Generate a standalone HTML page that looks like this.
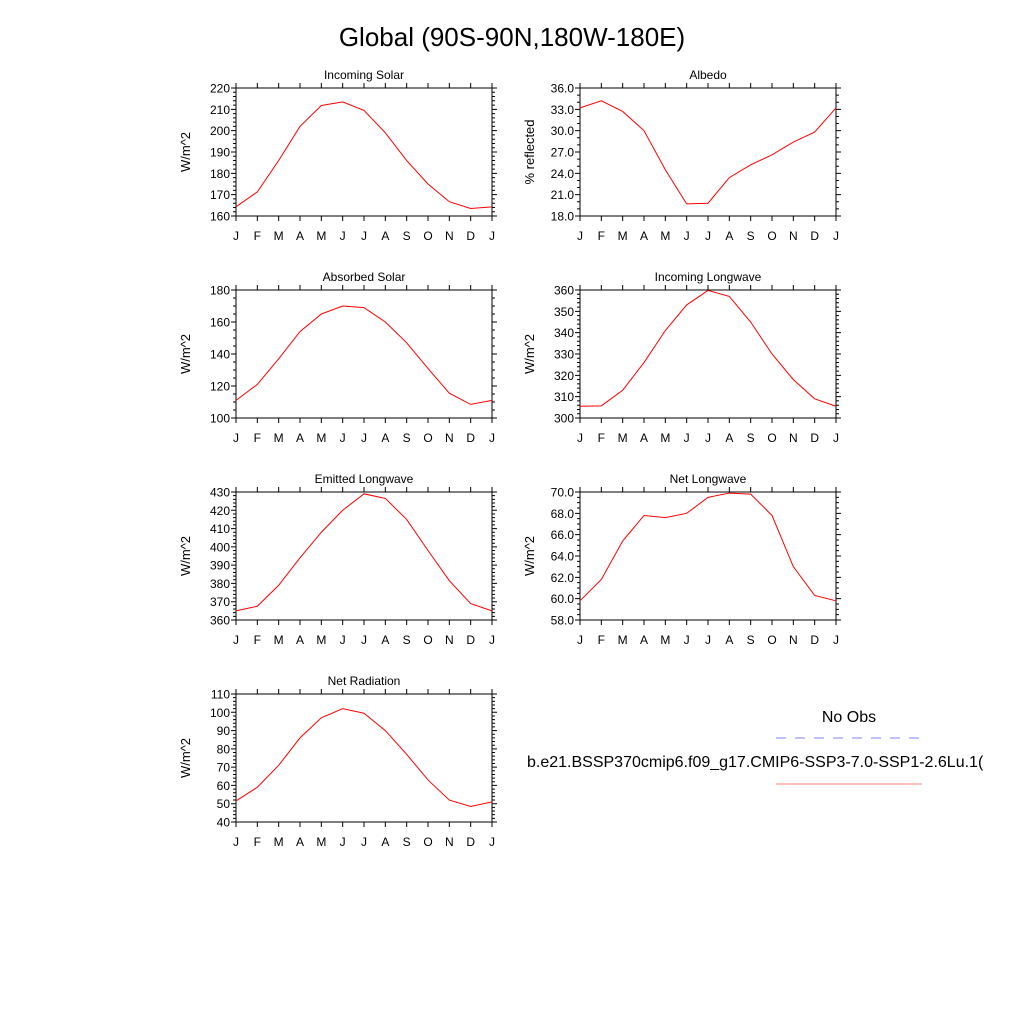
<!DOCTYPE html>
<html><head><meta charset="utf-8"><style>body{margin:0;background:#fff}svg{display:block}text{font-family:"Liberation Sans",sans-serif;fill:#000}</style></head>
<body>
<svg id="fig" width="1024" height="1024" viewBox="0 0 1024 1024">
<text x="512" y="46" font-size="26" text-anchor="middle">Global (90S-90N,180W-180E)</text>
<g>
<text x="849" y="722" font-size="16" text-anchor="middle">No Obs</text>
<line x1="776" y1="738" x2="922" y2="738" stroke="#8080ff" stroke-width="1" stroke-dasharray="10,9"/>
<text x="527" y="767" font-size="16">b.e21.BSSP370cmip6.f09_g17.CMIP6-SSP3-7.0-SSP1-2.6Lu.1(</text>
<line x1="776" y1="784" x2="922" y2="784" stroke="#ff8080" stroke-width="1"/>
</g>
</svg>
<script>
const months = ["J","F","M","A","M","J","J","A","S","O","N","D","J"];
const incomingSolar = [164.3,171.3,186,202,211.8,213.5,209.5,199,186,175,166.7,163.5,164.3];
const albedo = [33.2,34.2,32.7,30,24.5,19.7,19.8,23.4,25.2,26.6,28.4,29.8,33.2];
const absorbedSolar = [111,121,137,154,165,170,169,160,147,131,115.5,108.5,111];
const incomingLongwave = [305.5,305.7,313,326,341,353,359.8,357,345,330,318,309,305.5];
const emittedLongwave = [365,367.5,379,394,408,420,429,426.5,415,398,381.5,369,365];
const netLongwave = [59.8,61.8,65.4,67.8,67.6,68,69.5,69.9,69.8,67.8,63,60.3,59.8];
const netRadiation = [51.5,59,71,86,97,102,99.5,90,77,63,52,48.5,51];
const ticksSolar = [160,170,180,190,200,210,220];
const ticksAlbedo = [18,21,24,27,30,33,36];
const ticksAbs = [100,120,140,160,180];
const ticksILW = [300,310,320,330,340,350,360];
const ticksELW = [360,370,380,390,400,410,420,430];
const ticksNLW = [58,60,62,64,66,68,70];
const ticksNR = [40,50,60,70,80,90,100,110];

const panels = [
 {name:"incoming-solar",title:"Incoming Solar",yl:"W/m^2",x:236,y:88,d:incomingSolar,t:ticksSolar,dec:0,minor:5},
 {name:"albedo",title:"Albedo",yl:"% reflected",x:580,y:88,d:albedo,t:ticksAlbedo,dec:1,minor:3},
 {name:"absorbed-solar",title:"Absorbed Solar",yl:"W/m^2",x:236,y:290,d:absorbedSolar,t:ticksAbs,dec:0,minor:4},
 {name:"incoming-longwave",title:"Incoming Longwave",yl:"W/m^2",x:580,y:290,d:incomingLongwave,t:ticksILW,dec:0,minor:5},
 {name:"emitted-longwave",title:"Emitted Longwave",yl:"W/m^2",x:236,y:492,d:emittedLongwave,t:ticksELW,dec:0,minor:5},
 {name:"net-longwave",title:"Net Longwave",yl:"W/m^2",x:580,y:492,d:netLongwave,t:ticksNLW,dec:1,minor:4},
 {name:"net-radiation",title:"Net Radiation",yl:"W/m^2",x:236,y:694,d:netRadiation,t:ticksNR,dec:0,minor:5}
];
const NS="http://www.w3.org/2000/svg";
const svg=document.getElementById('fig');
function mk(tag,attrs,parent){const e=document.createElementNS(NS,tag);for(const k in attrs)e.setAttribute(k,attrs[k]);parent.appendChild(e);return e;}
panels.forEach(p=>{
 const W=256,H=128;
 const g=mk('g',{},svg);
 
 
 const y0=p.t[0],y1=p.t[p.t.length-1];
 const sx=i=>p.x+i*W/12;
 const sy=v=>p.y+H-(v-y0)/(y1-y0)*H;
 const fr=mk('rect',{x:p.x,y:p.y,width:W,height:H,fill:'none',stroke:'#000','stroke-width':1},g);
 
 
 const tt=mk('text',{x:p.x+W/2,y:p.y-9,'font-size':12,'text-anchor':'middle'},g);
 
 
 tt.textContent=p.title;
 const yt=mk('text',{x:0,y:0,'font-size':13,'text-anchor':'middle',transform:`translate(${p.x-46},${p.y+H/2}) rotate(-90)`},g);
 
 
 yt.textContent=p.yl;
 let path='';
 months.forEach((m,i)=>{
  const x=sx(i);
  path+=`M${x},${p.y+H}v5M${x},${p.y}v-5`;
  const lt=mk('text',{x:x,y:p.y+H+24,'font-size':12,'text-anchor':'middle'},g);
  
  
  lt.textContent=m;
 });
 p.t.forEach((v,k)=>{
  const y=sy(v);
  path+=`M${p.x},${y}h-5M${p.x+W},${y}h5`;
  const lt=mk('text',{x:p.x-6,y:y+4.5,'font-size':12,'text-anchor':'end'},g);
  
  
  lt.textContent=v.toFixed(p.dec);
  if(k<p.t.length-1){const step=(p.t[k+1]-v)/p.minor;for(let j=1;j<p.minor;j++){const yy=sy(v+j*step);path+=`M${p.x},${yy}h-3M${p.x+W},${yy}h3`;}}
 });
 const tk=mk('path',{d:path,stroke:'#000','stroke-width':1,fill:'none'},g);
 
 
 const pts=p.d.map((v,i)=>sx(i)+','+sy(v)).join(' ');
 const ln=mk('polyline',{points:pts,fill:'none',stroke:'#ff0000','stroke-width':1},g);
 
 
});
</script>
</body></html>
